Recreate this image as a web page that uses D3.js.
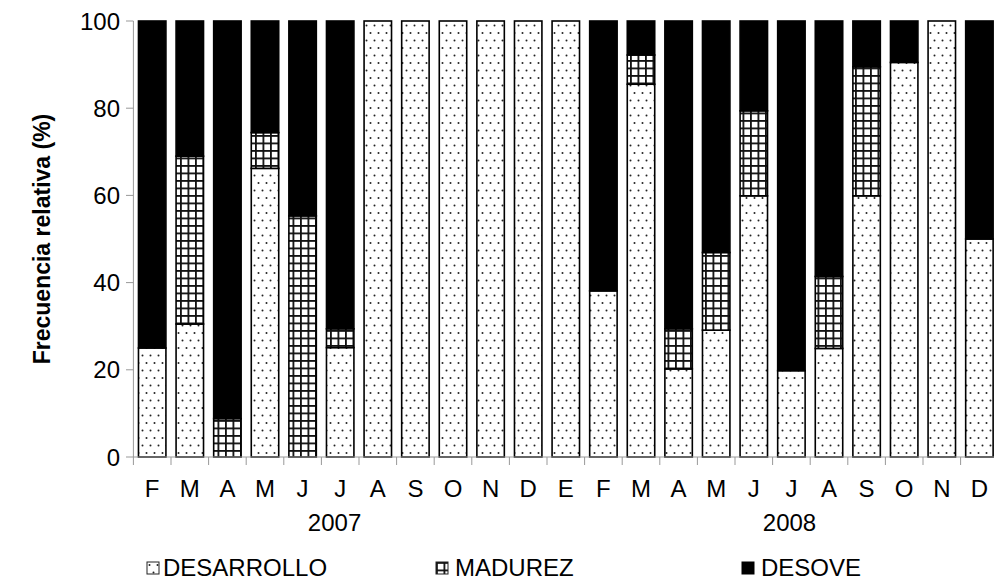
<!DOCTYPE html>
<html><head><meta charset="utf-8">
<script src="https://cdn.jsdelivr.net/npm/d3@7"></script>
<style>body{margin:0;background:#fff}svg{display:block;font-family:"Liberation Sans",Arial,sans-serif}</style>
</head><body><svg id="c" width="994" height="582"></svg>
<script>
const months = ["F","M","A","M","J","J","A","S","O","N","D","E","F","M","A","M","J","J","A","S","O","N","D"];
const desarrollo = [25,30.5,0,66.2,0,25.1,100,100,100,100,100,100,38.1,85.5,20.2,29.1,59.9,19.8,24.9,59.9,90.5,100,50];
const madurez    = [0,38.5,8.8,8.2,55.3,4.3,0,0,0,0,0,0,0,6.7,9.2,17.8,19.5,0,16.5,29.6,0,0,0];
const desove     = [75,31,91.2,25.6,44.7,70.6,0,0,0,0,0,0,61.9,7.8,70.6,53.1,20.6,80.2,58.6,10.5,9.5,0,50];
const years = [{label:"2007", at:4.85},{label:"2008", at:16.95}];
const yTicks = [0,20,40,60,80,100];
const seriesNames = ["DESARROLLO","MADUREZ","DESOVE"];

const svg = d3.select("#c");
const defs = svg.append("defs");
const pd = defs.append("pattern").attr("id","dots").attr("patternUnits","userSpaceOnUse")
  .attr("width",8).attr("height",15);
pd.append("rect").attr("width",8).attr("height",15).attr("fill","#fff");
pd.append("circle").attr("cx",2.5).attr("cy",3).attr("r",1.0).attr("fill","#222");
pd.append("circle").attr("cx",6.5).attr("cy",10.5).attr("r",1.0).attr("fill","#222");
const pg = defs.append("pattern").attr("id","grid").attr("patternUnits","userSpaceOnUse")
  .attr("width",7.5).attr("height",7.5);
pg.append("rect").attr("width",7.5).attr("height",7.5).attr("fill","#fff");
pg.append("rect").attr("x",0).attr("y",0).attr("width",1.8).attr("height",7.5).attr("fill","#111");
pg.append("rect").attr("x",0).attr("y",0).attr("width",7.5).attr("height",1.8).attr("fill","#111");

const fills = ["url(#dots)","url(#grid)","#000"];

const x = d3.scaleBand().domain(d3.range(months.length)).range([133.4, 998.2]).paddingInner(0.27).paddingOuter(0.135);
const y = d3.scaleLinear().domain([0,100]).range([457,21]);

const rows = months.map((m,i)=>({i, DESARROLLO:desarrollo[i], MADUREZ:madurez[i], DESOVE:desove[i]}));
const stack = d3.stack().keys(seriesNames)(rows);

stack.forEach((s,k)=>{
  svg.append("g").selectAll("rect").data(s.filter(d=>d[1]-d[0]>0)).join("rect")
    .attr("x", d=>x(d.data.i)).attr("width", x.bandwidth())
    .attr("y", d=>y(d[1])).attr("height", d=>y(d[0])-y(d[1]))
    .attr("fill", fills[k]).attr("stroke","#000").attr("stroke-width",1.6);
});

const axisColor = "#999";
svg.append("line").attr("x1",133.4).attr("x2",133.4).attr("y1",y(100)).attr("y2",y(0)).attr("stroke",axisColor).attr("stroke-width",1);
svg.append("line").attr("x1",133.4).attr("x2",998).attr("y1",y(0)).attr("y2",y(0)).attr("stroke",axisColor).attr("stroke-width",1);
svg.append("g").selectAll("line").data(yTicks).join("line")
  .attr("x1",126).attr("x2",133.4).attr("y1",d=>y(d)).attr("y2",d=>y(d)).attr("stroke",axisColor);
svg.append("g").selectAll("text").data(yTicks).join("text")
  .attr("x",120).attr("y",d=>y(d)).attr("dy","0.36em").attr("text-anchor","end")
  .attr("font-size",24).text(d=>d);
const step = x.step();
svg.append("g").selectAll("line").data(d3.range(months.length+1)).join("line")
  .attr("x1",d=>133.4+d*step).attr("x2",d=>133.4+d*step).attr("y1",y(0)).attr("y2",y(0)+8).attr("stroke",axisColor);
svg.append("g").selectAll("text").data(months).join("text")
  .attr("x",(d,i)=>x(i)+x.bandwidth()/2).attr("y",497).attr("text-anchor","middle")
  .attr("font-size",24).text(d=>d);
svg.append("g").selectAll("text").data(years).join("text")
  .attr("x",d=>x(0)+x.bandwidth()/2+d.at*step).attr("y",531).attr("text-anchor","middle")
  .attr("font-size",24).text(d=>d.label);

svg.append("text").attr("transform","translate(50,239) rotate(-90)").attr("text-anchor","middle")
  .attr("font-size",23).attr("font-weight","bold").text("Frecuencia relativa (%)");

const legX = [147,436,742];
const lg = svg.append("g").selectAll("g").data(seriesNames).join("g")
  .attr("transform",(d,i)=>`translate(${legX[i]},562)`);
lg.append("rect").attr("width",12).attr("height",12).attr("fill",(d,i)=>fills[i])
  .attr("stroke",(d,i)=>i===2?"#000":"#222").attr("stroke-width",1);
lg.append("text").attr("x",(d,i)=>i===0?16:19).attr("y",14).attr("font-size",24).text(d=>d);
</script></body></html>
